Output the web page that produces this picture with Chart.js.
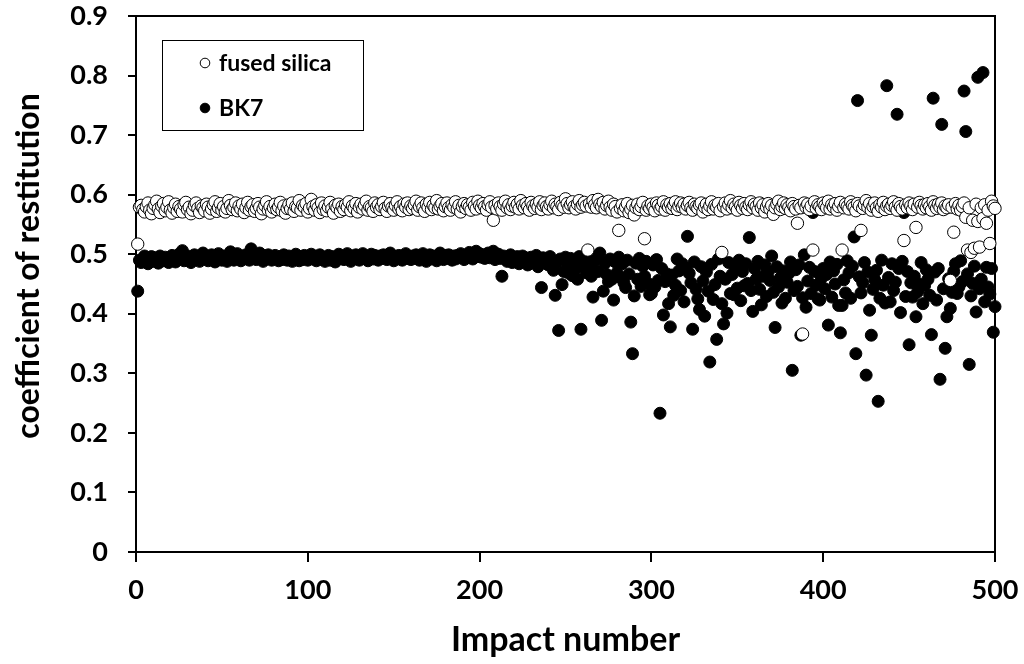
<!DOCTYPE html>
<html><head><meta charset="utf-8">
<script src="https://cdn.jsdelivr.net/npm/chart.js@4/dist/chart.umd.min.js"></script>
<style>html,body{margin:0;padding:0;background:#fff}#wrap{width:1024px;height:664px;position:relative}</style>
</head><body><div id="wrap"><canvas id="c" width="1024" height="664"></canvas></div>
<script>
const seriesNames = ['fused silica', 'BK7'];
const xTitle = 'Impact number';
const yTitle = 'coefficient of restitution';
const xTickValues = [0, 100, 200, 300, 400, 500];
const yTickValues = [0, 0.1, 0.2, 0.3, 0.4, 0.5, 0.6, 0.7, 0.8, 0.9];

const fusedSilica = [
0.517,0.579,0.582,0.575,0.571,0.580,0.586,0.574,0.568,0.577,0.583,0.589,0.576,0.570,0.581,0.585,0.573,0.579,0.588,0.574,
0.569,0.578,0.584,0.572,0.580,0.576,0.571,0.583,0.587,0.575,0.579,0.568,0.574,0.582,0.586,0.577,0.570,0.581,0.578,0.573,
0.584,0.579,0.569,0.576,0.583,0.588,0.572,0.578,0.585,0.574,0.580,0.571,0.577,0.590,0.582,0.575,0.579,0.586,0.573,0.581,
0.576,0.584,0.570,0.578,0.587,0.574,0.580,0.583,0.572,0.577,0.585,0.579,0.568,0.576,0.582,0.588,0.574,0.580,0.571,0.578,
0.584,0.575,0.579,0.587,0.573,0.581,0.569,0.577,0.583,0.576,0.586,0.572,0.580,0.578,0.590,0.574,0.582,0.579,0.585,0.571,
0.577,0.592,0.580,0.574,0.583,0.578,0.570,0.586,0.575,0.581,0.573,0.579,0.587,0.576,0.569,0.582,0.578,0.584,0.572,0.580,
0.575,0.583,0.579,0.588,0.573,0.581,0.577,0.585,0.571,0.579,0.584,0.576,0.582,0.589,0.574,0.580,0.578,0.572,0.586,0.579,
0.583,0.575,0.580,0.587,0.577,0.572,0.581,0.585,0.578,0.574,0.582,0.588,0.576,0.580,0.573,0.584,0.579,0.586,0.575,0.581,
0.577,0.583,0.589,0.574,0.580,0.586,0.578,0.572,0.584,0.579,0.587,0.575,0.582,0.578,0.590,0.576,0.581,0.585,0.573,0.580,
0.586,0.578,0.574,0.583,0.579,0.588,0.576,0.582,0.571,0.580,0.585,0.577,0.583,0.579,0.574,0.587,0.581,0.576,0.589,0.582,
0.578,0.585,0.580,0.574,0.583,0.588,0.579,0.557,0.582,0.576,0.586,0.580,0.574,0.584,0.589,0.578,0.583,0.575,0.581,0.587,
0.579,0.584,0.576,0.590,0.582,0.578,0.585,0.580,0.574,0.587,0.581,0.577,0.584,0.579,0.588,0.575,0.582,0.586,0.580,0.576,
0.583,0.589,0.578,0.584,0.580,0.575,0.587,0.582,0.579,0.593,0.585,0.578,0.583,0.588,0.580,0.576,0.584,0.590,0.579,0.583,
0.587,0.581,0.507,0.585,0.579,0.590,0.583,0.578,0.592,0.584,0.580,0.587,0.576,0.582,0.589,0.579,0.574,0.584,0.580,0.571,
0.540,0.577,0.583,0.573,0.579,0.585,0.570,0.576,0.582,0.566,0.578,0.584,0.575,0.580,0.587,0.526,0.574,0.581,0.577,0.584,
0.579,0.573,0.586,0.582,0.576,0.580,0.588,0.574,0.583,0.579,0.585,0.577,0.582,0.588,0.575,0.581,0.586,0.579,0.584,0.576,
0.582,0.587,0.578,0.574,0.584,0.580,0.577,0.583,0.586,0.571,0.579,0.584,0.575,0.581,0.588,0.576,0.582,0.579,0.585,0.573,
0.503,0.580,0.586,0.576,0.583,0.590,0.578,0.584,0.580,0.574,0.587,0.582,0.577,0.585,0.579,0.575,0.583,0.588,0.578,0.584,
0.580,0.574,0.586,0.578,0.583,0.571,0.579,0.585,0.576,0.582,0.567,0.578,0.584,0.589,0.575,0.580,0.586,0.577,0.583,0.579,
0.573,0.585,0.580,0.576,0.552,0.582,0.578,0.366,0.586,0.579,0.584,0.575,0.581,0.507,0.588,0.577,0.583,0.580,0.575,0.586,
0.582,0.578,0.589,0.576,0.583,0.579,0.585,0.574,0.580,0.587,0.507,0.578,0.584,0.580,0.576,0.588,0.582,0.579,0.573,0.585,
0.581,0.540,0.577,0.583,0.590,0.579,0.585,0.574,0.580,0.586,0.578,0.572,0.583,0.579,0.587,0.575,0.581,0.584,0.577,0.582,
0.588,0.579,0.574,0.585,0.580,0.576,0.523,0.583,0.578,0.586,0.581,0.575,0.584,0.545,0.579,0.587,0.582,0.576,0.583,0.578,
0.585,0.580,0.574,0.588,0.582,0.577,0.584,0.579,0.586,0.575,0.581,0.578,0.583,0.456,0.579,0.537,0.585,0.576,0.582,0.574,
0.580,0.586,0.562,0.507,0.578,0.503,0.557,0.510,0.584,0.555,0.512,0.578,0.560,0.583,0.552,0.574,0.518,0.589,0.581,0.577
];

const bk7 = [
0.438,0.490,0.486,0.493,0.497,0.489,0.484,0.492,0.496,0.488,0.494,0.491,0.485,0.497,0.493,0.489,0.495,0.490,0.486,0.494,
0.498,0.491,0.487,0.495,0.500,0.493,0.506,0.489,0.494,0.497,0.490,0.486,0.493,0.499,0.491,0.495,0.488,0.494,0.502,0.492,
0.496,0.489,0.494,0.499,0.491,0.487,0.495,0.501,0.493,0.490,0.497,0.492,0.488,0.495,0.504,0.493,0.490,0.496,0.501,0.494,
0.489,0.497,0.492,0.499,0.495,0.490,0.509,0.494,0.498,0.491,0.496,0.502,0.493,0.488,0.497,0.492,0.499,0.495,0.490,0.494,
0.498,0.493,0.489,0.496,0.491,0.499,0.494,0.490,0.497,0.492,0.488,0.495,0.500,0.493,0.489,0.496,0.491,0.498,0.494,0.490,
0.496,0.500,0.492,0.497,0.489,0.494,0.499,0.491,0.495,0.488,0.493,0.498,0.490,0.496,0.492,0.487,0.495,0.500,0.493,0.497,
0.491,0.496,0.501,0.493,0.488,0.497,0.492,0.499,0.494,0.490,0.496,0.501,0.493,0.497,0.489,0.495,0.500,0.492,0.498,0.494,
0.490,0.497,0.493,0.499,0.495,0.491,0.497,0.502,0.494,0.489,0.496,0.492,0.498,0.494,0.490,0.497,0.501,0.493,0.496,0.491,
0.497,0.493,0.499,0.495,0.490,0.496,0.501,0.493,0.488,0.495,0.499,0.492,0.497,0.494,0.489,0.496,0.502,0.494,0.491,0.498,
0.493,0.499,0.495,0.490,0.497,0.492,0.498,0.494,0.501,0.496,0.491,0.498,0.494,0.503,0.497,0.492,0.499,0.505,0.496,0.501,
0.495,0.499,0.493,0.498,0.502,0.494,0.497,0.505,0.491,0.496,0.500,0.493,0.463,0.497,0.492,0.488,0.495,0.499,0.486,0.493,
0.490,0.496,0.484,0.492,0.497,0.488,0.494,0.482,0.490,0.495,0.486,0.493,0.498,0.479,0.490,0.444,0.494,0.486,0.491,0.482,
0.496,0.488,0.473,0.431,0.486,0.372,0.492,0.449,0.471,0.495,0.487,0.468,0.493,0.464,0.490,0.476,0.458,0.496,0.374,0.483,
0.491,0.469,0.494,0.476,0.463,0.428,0.489,0.496,0.471,0.502,0.389,0.438,0.485,0.466,0.454,0.492,0.458,0.423,0.487,0.469,
0.495,0.461,0.484,0.452,0.444,0.490,0.467,0.386,0.333,0.430,0.485,0.458,0.493,0.446,0.480,0.463,0.488,0.451,0.432,0.434,
0.482,0.445,0.491,0.456,0.233,0.476,0.398,0.454,0.467,0.417,0.378,0.465,0.431,0.448,0.492,0.472,0.439,0.484,0.420,0.476,
0.530,0.468,0.452,0.374,0.487,0.441,0.425,0.407,0.479,0.455,0.396,0.470,0.438,0.319,0.483,0.424,0.449,0.357,0.492,0.463,
0.417,0.383,0.458,0.401,0.486,0.434,0.466,0.432,0.478,0.443,0.490,0.422,0.471,0.447,0.484,0.451,0.528,0.439,0.404,0.476,
0.458,0.488,0.441,0.415,0.463,0.482,0.429,0.470,0.456,0.497,0.436,0.377,0.479,0.445,0.460,0.418,0.472,0.426,0.453,0.468,
0.487,0.305,0.439,0.474,0.446,0.482,0.364,0.427,0.499,0.411,0.455,0.478,0.434,0.570,0.471,0.448,0.425,0.423,0.460,0.476,
0.442,0.466,0.381,0.487,0.428,0.472,0.450,0.483,0.414,0.368,0.414,0.457,0.435,0.489,0.469,0.426,0.480,0.529,0.333,0.758,
0.462,0.435,0.452,0.486,0.297,0.470,0.406,0.364,0.441,0.457,0.473,0.253,0.426,0.490,0.448,0.418,0.783,0.461,0.420,0.484,
0.439,0.453,0.735,0.476,0.402,0.488,0.570,0.429,0.471,0.348,0.452,0.428,0.463,0.395,0.437,0.450,0.486,0.417,0.447,0.474,
0.458,0.431,0.365,0.762,0.470,0.423,0.476,0.290,0.718,0.442,0.342,0.395,0.459,0.409,0.436,0.471,0.484,0.434,0.445,0.489,
0.454,0.774,0.706,0.467,0.315,0.430,0.451,0.480,0.403,0.797,0.442,0.458,0.805,0.420,0.478,0.445,0.433,0.476,0.369,0.412
];

const impactNumbers = fusedSilica.map((_, i) => i + 1);
const toPoints = vals => vals.map((v, i) => ({ x: impactNumbers[i], y: v }));

const FONT = 'Lato, "Open Sans", sans-serif';

const frameAndLegend = {
  id: 'frameAndLegend',
  beforeDatasetsDraw(chart) {
    const { ctx, chartArea: a } = chart;
    ctx.save();
    ctx.strokeStyle = '#000';
    ctx.lineWidth = 2;
    ctx.strokeRect(a.left, a.top, a.right - a.left, a.bottom - a.top);
    ctx.restore();
  },
  afterDraw(chart) {
    const { ctx } = chart;
    ctx.save();
    // y-axis title (Excel places it slightly above the axis centre)
    const yt = chart.options.scales.y.title;
    ctx.translate(29, 266);
    ctx.rotate(-Math.PI / 2);
    ctx.font = 'bold 32px ' + FONT;
    ctx.fillStyle = '#000';
    ctx.textAlign = 'center';
    ctx.textBaseline = 'middle';
    ctx.fillText(yt.text, 0, 0);
    ctx.restore();

    ctx.save();
    ctx.fillStyle = '#fff';
    ctx.fillRect(162, 40, 201, 90);
    ctx.strokeStyle = '#000';
    ctx.lineWidth = 1;
    ctx.strokeRect(162.5, 40.5, 201, 90);
    ctx.font = 'bold 23px ' + FONT;
    ctx.textBaseline = 'middle';
    ctx.textAlign = 'left';
    const rows = [63, 108];
    chart.data.datasets.forEach((ds, i) => {
      const y = rows[i];
      ctx.beginPath();
      ctx.arc(205, y, 4.8, 0, Math.PI * 2);
      ctx.fillStyle = ds.backgroundColor;
      ctx.fill();
      ctx.lineWidth = 1;
      ctx.strokeStyle = '#000';
      ctx.stroke();
      ctx.fillStyle = '#000';
      ctx.fillText(ds.label, 219, y + 1);
    });
    ctx.restore();
  }
};

new Chart(document.getElementById('c'), {
  type: 'scatter',
  data: {
    datasets: [
      { label: seriesNames[0], data: toPoints(fusedSilica), backgroundColor: '#ffffff', borderColor: '#000000',
        borderWidth: 1, pointRadius: 6.2, pointHoverRadius: 6.2, clip: false },
      { label: seriesNames[1], data: toPoints(bk7), backgroundColor: '#000000', borderColor: '#000000',
        borderWidth: 1, pointRadius: 6, pointHoverRadius: 6, clip: false }
    ]
  },
  options: {
    responsive: false,
    animation: false,
    events: [],
    layout: { padding: { left: 0, right: 29, top: 16, bottom: 0 } },
    plugins: { legend: { display: false }, tooltip: { enabled: false } },
    scales: {
      x: {
        type: 'linear', min: 0, max: 500,
        afterBuildTicks: s => { s.ticks = xTickValues.map(v => ({ value: v })); },
        afterFit: s => { s.height = 112; s.paddingLeft = 0; s.paddingRight = 0; },
        border: { display: true, color: '#000', width: 2 },
        grid: { drawOnChartArea: false, drawTicks: true, tickLength: 10, color: '#000', lineWidth: 2 },
        ticks: { color: '#000', font: { family: FONT, size: 27, weight: 'bold' }, padding: 12, maxRotation: 0 },
        title: { display: true, text: xTitle, color: '#000', font: { family: FONT, size: 34, weight: 'bold' }, padding: { top: 0, bottom: 4 } }
      },
      y: {
        type: 'linear', min: 0, max: 0.9,
        afterBuildTicks: s => { s.ticks = yTickValues.map(v => ({ value: v })); },
        afterFit: s => { s.width = 136; s.paddingTop = 0; s.paddingBottom = 0; },
        border: { display: true, color: '#000', width: 2 },
        grid: { drawOnChartArea: false, drawTicks: true, tickLength: 8, color: '#000', lineWidth: 2 },
        ticks: { color: '#000', font: { family: FONT, size: 27, weight: 'bold' }, padding: 20,
          callback: v => (v === 0 ? '0' : v.toFixed(1)) },
        title: { display: false, text: yTitle, color: '#000', font: { family: FONT, size: 32, weight: 'bold' } }
      }
    }
  },
  plugins: [frameAndLegend]
});
</script>
</body></html>
